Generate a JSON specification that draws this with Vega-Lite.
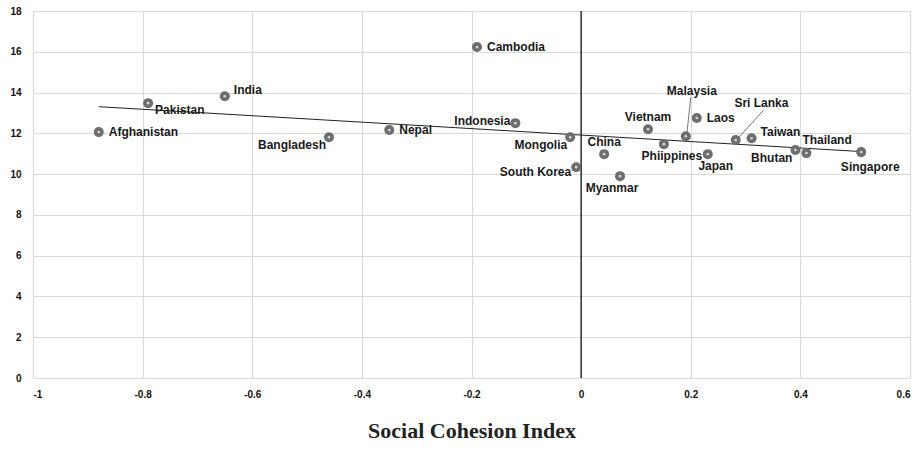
{
  "$schema": "https://vega.github.io/schema/vega-lite/v6.json",
  "autosize": "none",
  "width": 877,
  "height": 367,
  "padding": {"left": 33, "top": 11, "right": 13, "bottom": 75},
  "background": "white",
  "config": {"view": {"stroke": null}},
  "datasets": {
    "pts": [
      {"country": "Afghanistan", "sci": -0.88, "val": 12.06},
      {"country": "Pakistan", "sci": -0.79, "val": 13.48},
      {"country": "India", "sci": -0.65, "val": 13.82},
      {"country": "Bangladesh", "sci": -0.46, "val": 11.81},
      {"country": "Nepal", "sci": -0.35, "val": 12.16},
      {"country": "Cambodia", "sci": -0.19, "val": 16.23},
      {"country": "Indonesia", "sci": -0.12, "val": 12.5},
      {"country": "Mongolia", "sci": -0.02, "val": 11.81},
      {"country": "South Korea", "sci": -0.009, "val": 10.34},
      {"country": "China", "sci": 0.042, "val": 10.98},
      {"country": "Myanmar", "sci": 0.071, "val": 9.9},
      {"country": "Vietnam", "sci": 0.122, "val": 12.2},
      {"country": "Phiippines", "sci": 0.151, "val": 11.47},
      {"country": "Malaysia", "sci": 0.191, "val": 11.86},
      {"country": "Laos", "sci": 0.211, "val": 12.75},
      {"country": "Japan", "sci": 0.231, "val": 10.98},
      {"country": "Sri Lanka", "sci": 0.282, "val": 11.67},
      {"country": "Taiwan", "sci": 0.311, "val": 11.76},
      {"country": "Bhutan", "sci": 0.391, "val": 11.18},
      {"country": "Thailand", "sci": 0.411, "val": 11.03},
      {"country": "Singapore", "sci": 0.511, "val": 11.08}
    ],
    "callouts": [
      {"country": "Malaysia", "sci": 0.193, "val": 12.0, "lsci": 0.2, "lval": 13.77, "tsci": 0.202, "tval": 14.1},
      {"country": "Sri Lanka", "sci": 0.287, "val": 11.78, "lsci": 0.333, "lval": 13.14, "tsci": 0.329, "tval": 13.48}
    ]
  },
  "data": {"name": "pts"},
  "encoding": {
    "x": {
      "field": "sci", "type": "quantitative",
      "scale": {"domain": [-1, 0.6], "nice": false, "zero": false},
      "axis": {
        "values": [-1, -0.8, -0.6, -0.4, -0.2, 0, 0.2, 0.4, 0.6],
        "labelExpr": "toString(datum.value)",
        "domain": false, "ticks": false, "grid": true, "gridColor": "#d9d9d9", "gridWidth": 1.2,
        "labelFont": "Liberation Sans", "labelFontWeight": "bold", "labelFontSize": 10, "labelColor": "#111",
        "labelPadding": 11,
        "title": "Social Cohesion Index",
        "titleFont": "Liberation Serif", "titleFontSize": 22, "titleFontWeight": "bold", "titleColor": "#222",
        "titlePadding": 21
      }
    },
    "y": {
      "field": "val", "type": "quantitative",
      "scale": {"domain": [0, 18], "nice": false},
      "axis": {
        "values": [0, 2, 4, 6, 8, 10, 12, 14, 16, 18],
        "domain": false, "ticks": false, "grid": true, "gridColor": "#d9d9d9", "gridWidth": 1.2,
        "labelFont": "Liberation Sans", "labelFontWeight": "bold", "labelFontSize": 10, "labelColor": "#111",
        "labelPadding": 12, "title": null
      }
    }
  },
  "layer": [
    {
      "data": {"values": [{"z": 0}]},
      "mark": {"type": "rule", "color": "#111", "strokeWidth": 1.3},
      "encoding": {"x": {"field": "z", "type": "quantitative"}, "y": null}
    },
    {
      "transform": [{"regression": "val", "on": "sci"}],
      "mark": {"type": "line", "color": "#222", "strokeWidth": 1}
    },
    {
      "data": {"name": "callouts"},
      "mark": {"type": "rule", "color": "#555", "strokeWidth": 0.8},
      "encoding": {
        "x": {"field": "sci", "type": "quantitative"},
        "y": {"field": "val", "type": "quantitative"},
        "x2": {"field": "lsci"},
        "y2": {"field": "lval"}
      }
    },
    {
      "mark": {"type": "circle", "size": 100, "color": "#6e6e6e", "opacity": 1}
    },
    {
      "mark": {"type": "circle", "size": 7, "color": "#d8d8d8", "opacity": 1}
    },
    {
      "transform": [{"filter": {"field": "country", "oneOf": ["Afghanistan", "Nepal", "Cambodia", "Laos"]}}],
      "mark": {"type": "text", "align": "left", "baseline": "middle", "dx": 10, "dy": 0, "font": "Liberation Sans", "fontWeight": "bold", "fontSize": 12, "color": "#1a1a1a"},
      "encoding": {"text": {"field": "country"}}
    },
    {
      "transform": [{"filter": {"field": "country", "oneOf": ["India", "Taiwan"]}}],
      "mark": {"type": "text", "align": "left", "baseline": "middle", "dx": 9, "dy": -6, "font": "Liberation Sans", "fontWeight": "bold", "fontSize": 12, "color": "#1a1a1a"},
      "encoding": {"text": {"field": "country"}}
    },
    {
      "transform": [{"filter": {"field": "country", "oneOf": ["Pakistan"]}}],
      "mark": {"type": "text", "align": "left", "baseline": "middle", "dx": 7, "dy": 7, "font": "Liberation Sans", "fontWeight": "bold", "fontSize": 12, "color": "#1a1a1a"},
      "encoding": {"text": {"field": "country"}}
    },
    {
      "transform": [{"filter": {"field": "country", "oneOf": ["Indonesia"]}}],
      "mark": {"type": "text", "align": "right", "baseline": "middle", "dx": -5, "dy": -2, "font": "Liberation Sans", "fontWeight": "bold", "fontSize": 12, "color": "#1a1a1a"},
      "encoding": {"text": {"field": "country"}}
    },
    {
      "transform": [{"filter": {"field": "country", "oneOf": ["South Korea"]}}],
      "mark": {"type": "text", "align": "right", "baseline": "middle", "dx": -5, "dy": 5, "font": "Liberation Sans", "fontWeight": "bold", "fontSize": 12, "color": "#1a1a1a"},
      "encoding": {"text": {"field": "country"}}
    },
    {
      "transform": [{"filter": {"field": "country", "oneOf": ["Bangladesh", "Mongolia", "Bhutan"]}}],
      "mark": {"type": "text", "align": "right", "baseline": "middle", "dx": -3, "dy": 8, "font": "Liberation Sans", "fontWeight": "bold", "fontSize": 12, "color": "#1a1a1a"},
      "encoding": {"text": {"field": "country"}}
    },
    {
      "transform": [{"filter": {"field": "country", "oneOf": ["China", "Vietnam"]}}],
      "mark": {"type": "text", "align": "center", "baseline": "middle", "dx": 0, "dy": -12, "font": "Liberation Sans", "fontWeight": "bold", "fontSize": 12, "color": "#1a1a1a"},
      "encoding": {"text": {"field": "country"}}
    },
    {
      "transform": [{"filter": {"field": "country", "oneOf": ["Myanmar"]}}],
      "mark": {"type": "text", "align": "center", "baseline": "middle", "dx": -8, "dy": 12, "font": "Liberation Sans", "fontWeight": "bold", "fontSize": 12, "color": "#1a1a1a"},
      "encoding": {"text": {"field": "country"}}
    },
    {
      "transform": [{"filter": {"field": "country", "oneOf": ["Japan", "Phiippines"]}}],
      "mark": {"type": "text", "align": "center", "baseline": "middle", "dx": 8, "dy": 12, "font": "Liberation Sans", "fontWeight": "bold", "fontSize": 12, "color": "#1a1a1a"},
      "encoding": {"text": {"field": "country"}}
    },
    {
      "transform": [{"filter": {"field": "country", "oneOf": ["Singapore"]}}],
      "mark": {"type": "text", "align": "center", "baseline": "middle", "dx": 9, "dy": 15, "font": "Liberation Sans", "fontWeight": "bold", "fontSize": 12, "color": "#1a1a1a"},
      "encoding": {"text": {"field": "country"}}
    },
    {
      "transform": [{"filter": {"field": "country", "oneOf": ["Thailand"]}}],
      "mark": {"type": "text", "align": "left", "baseline": "middle", "dx": -4, "dy": -13, "font": "Liberation Sans", "fontWeight": "bold", "fontSize": 12, "color": "#1a1a1a"},
      "encoding": {"text": {"field": "country"}}
    },
    {
      "data": {"name": "callouts"},
      "mark": {"type": "text", "align": "center", "baseline": "middle", "font": "Liberation Sans", "fontWeight": "bold", "fontSize": 12, "color": "#1a1a1a"},
      "encoding": {
        "x": {"field": "tsci", "type": "quantitative"},
        "y": {"field": "tval", "type": "quantitative"},
        "text": {"field": "country"}
      }
    }
  ]
}
